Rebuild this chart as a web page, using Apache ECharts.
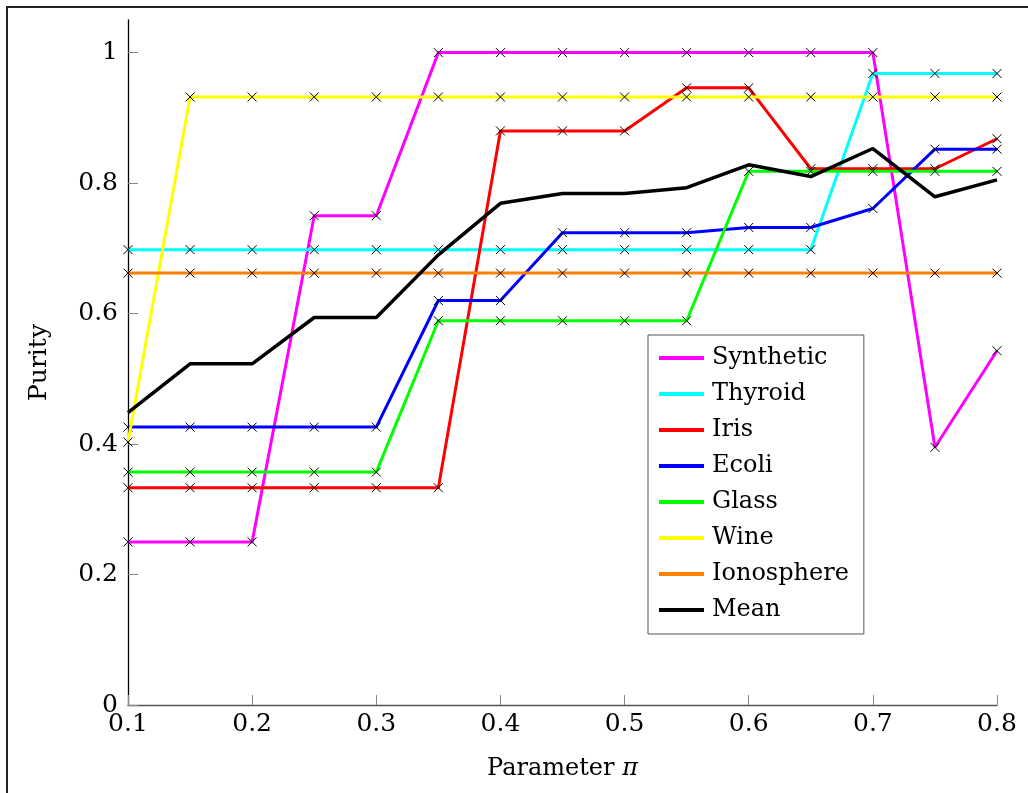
<!DOCTYPE html>
<html>
<head>
<meta charset="utf-8">
<script src="https://cdn.jsdelivr.net/npm/echarts@6/dist/echarts.min.js"></script>
<style>html,body{margin:0;padding:0;background:#fff;}#c{width:1028px;height:793px;}</style>
</head>
<body>
<div id="c"></div>
<script>
var xValues = [0.1, 0.15, 0.2, 0.25, 0.3, 0.35, 0.4, 0.45, 0.5, 0.55, 0.6, 0.65, 0.7, 0.75, 0.8];
var seriesNames = ['Synthetic', 'Thyroid', 'Iris', 'Ecoli', 'Glass', 'Wine', 'Ionosphere', 'Mean'];
var seriesColors = ['#ff00ff', '#00ffff', '#ff0000', '#0000ff', '#00ff00', '#ffff00', '#ff8000', '#000000'];
var synthetic = [0.25, 0.25, 0.25, 0.75, 0.75, 1.0, 1.0, 1.0, 1.0, 1.0, 1.0, 1.0, 1.0, 0.395, 0.543];
var thyroid = [0.698, 0.698, 0.698, 0.698, 0.698, 0.698, 0.698, 0.698, 0.698, 0.698, 0.698, 0.698, 0.968, 0.968, 0.968];
var iris = [0.333, 0.333, 0.333, 0.333, 0.333, 0.333, 0.88, 0.88, 0.88, 0.946, 0.946, 0.822, 0.822, 0.822, 0.868];
var ecoli = [0.426, 0.426, 0.426, 0.426, 0.426, 0.62, 0.62, 0.724, 0.724, 0.724, 0.732, 0.732, 0.761, 0.852, 0.852];
var glass = [0.357, 0.357, 0.357, 0.357, 0.357, 0.589, 0.589, 0.589, 0.589, 0.589, 0.818, 0.818, 0.818, 0.818, 0.818];
var wine = [0.403, 0.932, 0.932, 0.932, 0.932, 0.932, 0.932, 0.932, 0.932, 0.932, 0.932, 0.932, 0.932, 0.932, 0.932];
var ionosphere = [0.662, 0.662, 0.662, 0.662, 0.662, 0.662, 0.662, 0.662, 0.662, 0.662, 0.662, 0.662, 0.662, 0.662, 0.662];
var mean = [0.448, 0.523, 0.523, 0.594, 0.594, 0.69, 0.769, 0.784, 0.784, 0.793, 0.828, 0.81, 0.853, 0.779, 0.805];
var yTicks = [0, 0.2, 0.4, 0.6, 0.8, 1];
var xTicks = [0.1, 0.2, 0.3, 0.4, 0.5, 0.6, 0.7, 0.8];

var allValues = [synthetic, thyroid, iris, ecoli, glass, wine, ionosphere, mean];
var FONT = 'DejaVu Serif';

function pairs(vals) {
  return xValues.map(function (x, i) { return [x, vals[i]]; });
}

var series = seriesNames.map(function (name, i) {
  var isMean = name === 'Mean';
  return {
    name: name,
    type: 'line',
    data: pairs(allValues[i]),
    showSymbol: !isMean,
    symbol: isMean ? 'none' : 'path://M0,0L10,10M0,10L10,0',
    symbolSize: 9,
    lineStyle: { color: seriesColors[i], width: isMean ? 3.5 : 3 },
    itemStyle: { color: 'none', borderColor: '#000', borderWidth: 1 },
    emphasis: { disabled: true },
    z: 2 + i
  };
});

var chart = echarts.init(document.getElementById('c'), null, { renderer: 'canvas' });
chart.setOption({
  animation: false,
  backgroundColor: '#fff',
  graphic: [{
    type: 'rect',
    shape: { x: 7, y: 7, width: 1200, height: 1000 },
    style: { fill: 'none', stroke: '#222', lineWidth: 2 },
    silent: true
  }],
  grid: { left: 128, right: 31, top: 20, bottom: 88, containLabel: false },
  xAxis: {
    type: 'value',
    min: 0.1,
    max: 0.8,
    interval: 0.1,
    name: 'Parameter {i|π}',
    nameLocation: 'middle',
    nameGap: 52,
    nameTextStyle: {
      fontFamily: FONT, fontSize: 24, color: '#000',
      rich: { i: { fontFamily: FONT, fontStyle: 'italic', fontSize: 24, color: '#000' } }
    },
    axisLine: { show: true, lineStyle: { color: '#555', width: 1.3 } },
    axisTick: { show: true, inside: true, length: 10, lineStyle: { color: '#888', width: 1 } },
    axisLabel: {
      fontFamily: FONT, fontSize: 25, color: '#000', margin: 7,
      formatter: function (v) { return String(Math.round(v * 10) / 10); }
    },
    splitLine: { show: false }
  },
  yAxis: {
    type: 'value',
    min: 0,
    max: 1.05,
    interval: 0.2,
    name: 'Purity',
    nameLocation: 'middle',
    nameGap: 76,
    nameTextStyle: { fontFamily: FONT, fontSize: 25, color: '#000' },
    axisLine: { show: true, lineStyle: { color: '#000', width: 1.3 } },
    axisTick: { show: true, inside: true, length: 10, lineStyle: { color: '#888', width: 1 } },
    axisLabel: {
      fontFamily: FONT, fontSize: 25, color: '#000', margin: 10,
      showMaxLabel: false,
      formatter: function (v) {
        var r = Math.round(v * 10) / 10;
        return yTicks.indexOf(r) >= 0 ? String(r) : '';
      }
    },
    splitLine: { show: false }
  },
  legend: {
    orient: 'vertical',
    left: 648,
    top: 335,
    icon: 'rect',
    itemWidth: 45,
    itemHeight: 4,
    itemGap: 12,
    padding: [11, 15, 12, 11],
    borderColor: '#555',
    borderWidth: 1,
    backgroundColor: '#fff',
    textStyle: { fontFamily: FONT, fontSize: 24, color: '#000', padding: [0, 0, 0, 3], lineHeight: 24 },
    data: seriesNames.map(function (n, i) {
      return { name: n, itemStyle: { color: seriesColors[i], borderWidth: 0 } };
    })
  },
  series: series
});
</script>
</body>
</html>
